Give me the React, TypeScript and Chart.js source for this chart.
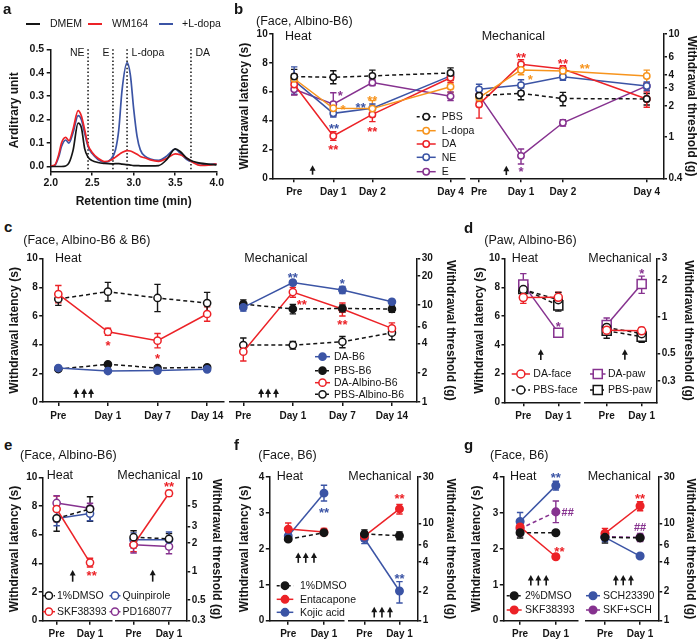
import React, { useEffect, useRef } from 'react';
import { Chart, registerables } from 'chart.js';

Chart.register(...registerables);

const FONT = '"Liberation Sans", Arial, Helvetica, sans-serif';
const INK = '#151515';
const RED = '#EC2227';
const ORANGE = '#F7941D';
const BLUE = '#3B54A5';
const PURPLE = '#86328F';

// ---------------- panel a : chromatogram ----------------
const retentionTime = [2.0, 2.05, 2.1, 2.13, 2.18, 2.22, 2.27, 2.33, 2.37, 2.41, 2.45, 2.5, 2.57, 2.65, 2.73, 2.78, 2.82, 2.86, 2.92, 2.96, 3.0, 3.04, 3.08, 3.14, 3.2, 3.3, 3.4, 3.5, 3.56, 3.64, 3.72, 3.8, 3.9, 4.0];
const dmemSignal = [0.0, 0.0, 0.0, 0.0, 0.002, 0.015, 0.07, 0.185, 0.165, 0.075, 0.04, 0.025, 0.017, 0.013, 0.011, 0.012, 0.012, 0.01, 0.008, 0.006, 0.004, 0.004, 0.003, 0.003, 0.003, 0.004, 0.03, 0.075, 0.064, 0.035, 0.021, 0.014, 0.01, 0.007];
const wm164Signal = [0.002, 0.007, 0.055, 0.1, 0.124, 0.11, 0.16, 0.238, 0.215, 0.156, 0.092, 0.06, 0.035, 0.021, 0.028, 0.04, 0.05, 0.06, 0.068, 0.066, 0.06, 0.052, 0.043, 0.036, 0.028, 0.022, 0.035, 0.054, 0.05, 0.035, 0.016, 0.005, 0.006, 0.011];
const ldopaSignal = [0.0, 0.005, 0.045, 0.085, 0.113, 0.1, 0.145, 0.217, 0.2, 0.14, 0.085, 0.055, 0.03, 0.018, 0.033, 0.07, 0.156, 0.327, 0.443, 0.39, 0.245, 0.13, 0.071, 0.043, 0.032, 0.026, 0.045, 0.074, 0.057, 0.03, 0.018, 0.012, 0.008, 0.011];
const standardTimes = [2.45, 2.75, 2.92, 3.69];
const standardLabels = ['NE', 'E', 'L-dopa', 'DA'];
const standardLabelRight = [false, false, true, true];
const chromYTicks = [0, 0.1, 0.2, 0.3, 0.4, 0.5];
const chromXTicks = [2.0, 2.5, 3.0, 3.5, 4.0];

// ---------------- shared ticks ----------------
const heatTicks10 = [0, 2, 4, 6, 8, 10];
const heatTicks4 = [0, 1, 2, 3, 4];
const bMechTicks = [0.4, 1, 2, 3, 4, 6, 10];
const cMechTicks = [1, 2, 4, 6, 10, 20, 30];
const dMechTicks = [0.3, 0.5, 1, 2, 3];
const eMechTicks = [0.3, 0.5, 1, 2, 3, 5, 10];
const fgMechTicks = [1, 2, 4, 6, 10, 30];

// ---------------- panel b ----------------
const bDays = [0, 1, 2, 4];
const bDayLabels = ['Pre', 'Day 1', 'Day 2', 'Day 4'];
const bHeatPBS = [7.05, 7.0, 7.1, 7.3];
const bHeatPBSErr = [0.5, 0.45, 0.4, 0.35];
const bHeatLdopa = [6.9, 4.85, 4.83, 6.35];
const bHeatLdopaErr = [0.3, 0.3, 0.55, 0.4];
const bHeatDA = [6.5, 2.93, 4.43, 6.97];
const bHeatDAErr = [0.7, 0.3, 0.5, 0.35];
const bHeatNE = [6.77, 4.5, 4.85, 7.1];
const bHeatNEErr = [0.95, 0.25, 0.3, 0.3];
const bHeatE = [6.17, 5.13, 6.63, 5.68];
const bHeatEErr = [0.4, 0.8, 0.2, 0.3];
const bMechPBS = [2.53, 2.66, 2.37, 2.35];
const bMechPBSErr = [0.3, 0.35, 0.35, 0.3];
const bMechLdopa = [2.42, 4.48, 4.39, 3.92];
const bMechLdopaErr = [0.2, 0.45, 0.3, 0.55];
const bMechDA = [2.08, 5.08, 4.58, 2.35];
const bMechDAErr = [0.55, 0.55, 0.35, 0.4];
const bMechNE = [2.91, 3.2, 3.86, 3.14];
const bMechNEErr = [0.35, 0.4, 0.3, 0.3];
const bMechE = [2.56, 0.66, 1.38, 3.14];
const bMechEErr = [0.3, 0.11, 0.1, 0.2];

// ---------------- panel c ----------------
const cDays = [0, 1, 2, 3];
const cDayLabels = ['Pre', 'Day 1', 'Day 7', 'Day 14'];
const cHeatDAB6 = [2.37, 2.16, 2.19, 2.28];
const cHeatDAB6Err = [0.1, 0.08, 0.08, 0.08];
const cHeatPBSB6 = [2.3, 2.63, 2.37, 2.42];
const cHeatPBSB6Err = [0.1, 0.1, 0.08, 0.08];
const cHeatDAAlb = [7.53, 4.9, 4.28, 6.14];
const cHeatDAAlbErr = [0.6, 0.25, 0.5, 0.5];
const cHeatPBSAlb = [7.19, 7.7, 7.26, 6.9];
const cHeatPBSAlbErr = [0.45, 0.65, 0.95, 0.75];
const cMechDAB6 = [9.45, 17.0, 14.3, 10.8];
const cMechDAB6Err = [0.8, 0.8, 1.2, 0.6];
const cMechPBSB6 = [10.2, 9.1, 9.2, 9.1];
const cMechPBSB6Err = [1.1, 1.0, 0.8, 0.7];
const cMechDAAlb = [3.3, 13.6, 9.1, 5.74];
const cMechDAAlbErr = [0.65, 1.6, 1.4, 0.8];
const cMechPBSAlb = [3.86, 3.86, 4.18, 5.18];
const cMechPBSAlbErr = [0.7, 0.35, 0.55, 0.8];

// ---------------- panels d-g ----------------
const preDay1 = [0, 1];
const preDay1Labels = ['Pre', 'Day 1'];

const dHeatDAface = [7.29, 7.31];
const dHeatDAfaceErr = [0.4, 0.35];
const dHeatPBSface = [7.85, 7.15];
const dHeatPBSfaceErr = [0.4, 0.5];
const dHeatDApaw = [8.21, 4.85];
const dHeatDApawErr = [0.75, 0.25];
const dHeatPBSpaw = [7.9, 6.75];
const dHeatPBSpawErr = [0.35, 0.4];
const dMechDAface = [0.78, 0.77];
const dMechDAfaceErr = [0.05, 0.05];
const dMechPBSface = [0.82, 0.73];
const dMechPBSfaceErr = [0.08, 0.08];
const dMechDApaw = [0.86, 1.86];
const dMechDApawErr = [0.12, 0.3];
const dMechPBSpaw = [0.77, 0.69];
const dMechPBSpawErr = [0.1, 0.07];

const eHeatDMSO = [7.14, 7.79];
const eHeatDMSOErr = [0.9, 0.85];
const eHeatSKF = [7.79, 4.05];
const eHeatSKFErr = [0.9, 0.3];
const eHeatQuin = [7.12, 7.47];
const eHeatQuinErr = [0.5, 0.5];
const eHeatPD = [8.21, 7.84];
const eHeatPDErr = [0.5, 0.35];
const eMechDMSO = [2.31, 2.22];
const eMechDMSOErr = [0.4, 0.3];
const eMechSKF = [1.92, 6.77];
const eMechSKFErr = [0.3, 0.5];
const eMechQuin = [2.17, 2.17];
const eMechQuinErr = [0.4, 0.45];
const eMechPD = [1.92, 1.84];
const eMechPDErr = [0.35, 0.3];

const fHeatDMSO = [2.27, 2.45];
const fHeatDMSOErr = [0.05, 0.06];
const fHeatEnt = [2.55, 2.47];
const fHeatEntErr = [0.17, 0.1];
const fHeatKojic = [2.36, 3.55];
const fHeatKojicErr = [0.1, 0.22];
const fMechDMSO = [7.78, 7.49];
const fMechDMSOErr = [0.8, 0.7];
const fMechEnt = [7.4, 14.1];
const fMechEntErr = [0.8, 1.6];
const fMechKojic = [7.0, 2.02];
const fMechKojicErr = [0.8, 0.5];

const gHeatDMSO = [2.45, 2.45];
const gHeatDMSOErr = [0.15, 0.05];
const gHeatSKF = [2.61, 1.78];
const gHeatSKFErr = [0.15, 0.05];
const gHeatSCH = [2.76, 3.76];
const gHeatSCHErr = [0.25, 0.12];
const gHeatMix = [2.56, 3.03];
const gHeatMixErr = [0.2, 0.3];
const gMechDMSO = [7.19, 7.1];
const gMechDMSOErr = [0.9, 0.5];
const gMechSKF = [7.9, 15.1];
const gMechSKFErr = [1.0, 1.6];
const gMechSCH = [7.2, 4.62];
const gMechSCHErr = [0.7, 0.25];
const gMechMix = [7.3, 7.2];
const gMechMixErr = [0.6, 0.7];

// ---------------- types & helpers ----------------
type Series = { label: string; color: string; values: number[]; errors: number[]; dashed?: boolean; filled?: boolean; square?: boolean };
type Note = [number, number, string, string];
type Arrow = [number, number, number];
type LegendItem = { s: Series; y: number; x1: number; x2: number; tx: number };
type Sub = {
  kind: 'heat' | 'mech';
  area: [number, number, number, number];
  titleX: number;
  xVals: number[];
  xLabels: string[];
  xMin: number;
  xMax: number;
  log: boolean;
  yMin: number;
  yMax: number;
  yTicks: number[];
  series: Series[];
  radius: number;
  notes: Note[];
  arrows: Arrow[];
  legend: LegendItem[];
};

const S = (label: string, color: string, values: number[], errors: number[], o: Partial<Series> = {}): Series => ({ label, color, values, errors, ...o });
const legendCol = (series: Series[], ys: number[], x1: number, x2: number, tx: number): LegendItem[] =>
  series.map((s, i) => ({ s, y: ys[i], x1, x2, tx }));

const bHeat = [
  S('PBS', INK, bHeatPBS, bHeatPBSErr, { dashed: true }),
  S('L-dopa', ORANGE, bHeatLdopa, bHeatLdopaErr),
  S('DA', RED, bHeatDA, bHeatDAErr),
  S('NE', BLUE, bHeatNE, bHeatNEErr),
  S('E', PURPLE, bHeatE, bHeatEErr),
];
const bMech = [
  S('PBS', INK, bMechPBS, bMechPBSErr, { dashed: true }),
  S('L-dopa', ORANGE, bMechLdopa, bMechLdopaErr),
  S('DA', RED, bMechDA, bMechDAErr),
  S('NE', BLUE, bMechNE, bMechNEErr),
  S('E', PURPLE, bMechE, bMechEErr),
];
const cHeat = [
  S('DA-B6', BLUE, cHeatDAB6, cHeatDAB6Err, { filled: true }),
  S('PBS-B6', INK, cHeatPBSB6, cHeatPBSB6Err, { filled: true, dashed: true }),
  S('DA-Albino-B6', RED, cHeatDAAlb, cHeatDAAlbErr),
  S('PBS-Albino-B6', INK, cHeatPBSAlb, cHeatPBSAlbErr, { dashed: true }),
];
const cMech = [
  S('DA-B6', BLUE, cMechDAB6, cMechDAB6Err, { filled: true }),
  S('PBS-B6', INK, cMechPBSB6, cMechPBSB6Err, { filled: true, dashed: true }),
  S('DA-Albino-B6', RED, cMechDAAlb, cMechDAAlbErr),
  S('PBS-Albino-B6', INK, cMechPBSAlb, cMechPBSAlbErr, { dashed: true }),
];
const dHeat = [
  S('DA-face', RED, dHeatDAface, dHeatDAfaceErr),
  S('PBS-face', INK, dHeatPBSface, dHeatPBSfaceErr, { dashed: true }),
  S('DA-paw', PURPLE, dHeatDApaw, dHeatDApawErr, { square: true }),
  S('PBS-paw', INK, dHeatPBSpaw, dHeatPBSpawErr, { square: true, dashed: true }),
];
const dMech = [
  S('DA-face', RED, dMechDAface, dMechDAfaceErr),
  S('PBS-face', INK, dMechPBSface, dMechPBSfaceErr, { dashed: true }),
  S('DA-paw', PURPLE, dMechDApaw, dMechDApawErr, { square: true }),
  S('PBS-paw', INK, dMechPBSpaw, dMechPBSpawErr, { square: true, dashed: true }),
];
const eHeat = [
  S('1%DMSO', INK, eHeatDMSO, eHeatDMSOErr, { dashed: true }),
  S('SKF38393', RED, eHeatSKF, eHeatSKFErr),
  S('Quinpirole', BLUE, eHeatQuin, eHeatQuinErr),
  S('PD168077', PURPLE, eHeatPD, eHeatPDErr),
];
const eMech = [
  S('1%DMSO', INK, eMechDMSO, eMechDMSOErr, { dashed: true }),
  S('SKF38393', RED, eMechSKF, eMechSKFErr),
  S('Quinpirole', BLUE, eMechQuin, eMechQuinErr),
  S('PD168077', PURPLE, eMechPD, eMechPDErr),
];
const fHeat = [
  S('1%DMSO', INK, fHeatDMSO, fHeatDMSOErr, { dashed: true, filled: true }),
  S('Entacapone', RED, fHeatEnt, fHeatEntErr, { filled: true }),
  S('Kojic acid', BLUE, fHeatKojic, fHeatKojicErr, { filled: true }),
];
const fMech = [
  S('1%DMSO', INK, fMechDMSO, fMechDMSOErr, { dashed: true, filled: true }),
  S('Entacapone', RED, fMechEnt, fMechEntErr, { filled: true }),
  S('Kojic acid', BLUE, fMechKojic, fMechKojicErr, { filled: true }),
];
const gHeat = [
  S('2%DMSO', INK, gHeatDMSO, gHeatDMSOErr, { dashed: true, filled: true }),
  S('SKF38393', RED, gHeatSKF, gHeatSKFErr, { filled: true }),
  S('SCH23390', BLUE, gHeatSCH, gHeatSCHErr, { filled: true }),
  S('SKF+SCH', PURPLE, gHeatMix, gHeatMixErr, { filled: true, dashed: true }),
];
const gMech = [
  S('2%DMSO', INK, gMechDMSO, gMechDMSOErr, { dashed: true, filled: true }),
  S('SKF38393', RED, gMechSKF, gMechSKFErr, { filled: true }),
  S('SCH23390', BLUE, gMechSCH, gMechSCHErr, { filled: true }),
  S('SKF+SCH', PURPLE, gMechMix, gMechMixErr, { filled: true, dashed: true }),
];

const subs: Sub[] = [
  {
    kind: 'heat', area: [272.7, 34, 465, 178.3], titleX: 245,
    xVals: bDays, xLabels: bDayLabels, xMin: -0.55, xMax: 4.37,
    log: false, yMin: 0, yMax: 10, yTicks: heatTicks10, series: bHeat, radius: 3.2,
    notes: [[1.18, 5.95, '*', PURPLE], [1.25, 5.0, '*', ORANGE], [1.7, 5.1, '**', BLUE], [1.02, 3.63, '**', BLUE], [1.0, 2.19, '**', RED], [2.0, 5.61, '**', ORANGE], [2.0, 3.46, '**', RED]],
    arrows: [[0.47, 0.25, 0.9]],
    legend: legendCol(bHeat, [116.7, 130.7, 144, 157.3, 171.7], 416.7, 435.7, 441.7),
  },
  {
    kind: 'mech', area: [470.7, 34, 663.5, 178.3], titleX: 691.7,
    xVals: bDays, xLabels: bDayLabels, xMin: -0.2, xMax: 4.4,
    log: true, yMin: 0.4, yMax: 10, yTicks: bMechTicks, series: bMech, radius: 3.2,
    notes: [[1.0, 6.4, '**', RED], [1.22, 3.92, '*', ORANGE], [2.0, 5.6, '**', RED], [2.52, 5.0, '**', ORANGE], [1.0, 0.5, '*', PURPLE]],
    arrows: [[0.65, 0.43, 0.53]],
    legend: [],
  },
  {
    kind: 'heat', area: [42.7, 258.7, 223.5, 402], titleX: 15,
    xVals: cDays, xLabels: cDayLabels, xMin: -0.315, xMax: 3.33,
    log: false, yMin: 0, yMax: 10, yTicks: heatTicks10, series: cHeat, radius: 3.6,
    notes: [[1, 4.14, '*', RED], [2, 3.28, '*', RED]],
    arrows: [[0.36, 0.3, 0.95], [0.52, 0.3, 0.95], [0.66, 0.3, 0.95]],
    legend: [],
  },
  {
    kind: 'mech', area: [229.3, 258.7, 416.7, 402], titleX: 450.7,
    xVals: cDays, xLabels: cDayLabels, xMin: -0.283, xMax: 3.5,
    log: true, yMin: 1, yMax: 30, yTicks: cMechTicks, series: cMech, radius: 3.6,
    notes: [[1, 20.8, '**', BLUE], [2, 17.8, '*', BLUE], [1.18, 10.8, '**', RED], [2, 6.7, '**', RED]],
    arrows: [[0.36, 1.11, 1.38], [0.5, 1.11, 1.38], [0.66, 1.11, 1.38]],
    legend: legendCol(cMech, [356.7, 370.7, 382.7, 394.3], 315, 330, 334),
  },
  {
    kind: 'heat', area: [505, 258.7, 580, 402.3], titleX: 480,
    xVals: preDay1, xLabels: preDay1Labels, xMin: -0.523, xMax: 1.62,
    log: false, yMin: 0, yMax: 10, yTicks: heatTicks10, series: dHeat, radius: 4,
    notes: [[1, 5.5, '*', PURPLE]],
    arrows: [[0.5, 2.95, 3.69]],
    legend: legendCol(dHeat.slice(0, 2), [374, 390], 511.7, 530, 533.3),
  },
  {
    kind: 'mech', area: [585, 258.7, 656.7, 402.3], titleX: 688.3,
    xVals: preDay1, xLabels: preDay1Labels, xMin: -0.62, xMax: 1.43,
    log: true, yMin: 0.2, yMax: 3, yTicks: dMechTicks, series: dMech, radius: 4,
    notes: [[1, 2.42, '*', PURPLE]],
    arrows: [[0.52, 0.446, 0.545]],
    legend: legendCol(dMech.slice(2), [374, 390], 590, 605.5, 608),
  },
  {
    kind: 'heat', area: [42.3, 477.3, 111.7, 620.7], titleX: 15,
    xVals: preDay1, xLabels: preDay1Labels, xMin: -0.43, xMax: 1.65,
    log: false, yMin: 0, yMax: 10, yTicks: heatTicks10, series: eHeat, radius: 3.6,
    notes: [[1.05, 3.35, '**', RED]],
    arrows: [[0.48, 2.72, 3.53]],
    legend: legendCol(eHeat.slice(0, 2), [595.7, 611.7], 42.7, 55, 57),
  },
  {
    kind: 'mech', area: [115.5, 477.3, 186.7, 620.7], titleX: 216.7,
    xVals: preDay1, xLabels: preDay1Labels, xMin: -0.51, xMax: 1.5,
    log: true, yMin: 0.3, yMax: 10, yTicks: eMechTicks, series: eMech, radius: 3.6,
    notes: [[1, 8.6, '**', RED]],
    arrows: [[0.54, 0.78, 1.04]],
    legend: legendCol(eMech.slice(2), [595.7, 611.7], 109.5, 120.5, 122.5),
  },
  {
    kind: 'heat', area: [269.3, 477, 344, 620.7], titleX: 245,
    xVals: preDay1, xLabels: preDay1Labels, xMin: -0.53, xMax: 1.56,
    log: false, yMin: 0, yMax: 4, yTicks: heatTicks4, series: fHeat, radius: 3.7,
    notes: [[1, 3.11, '**', BLUE]],
    arrows: [[0.28, 1.61, 1.9], [0.49, 1.61, 1.9], [0.72, 1.61, 1.9]],
    legend: legendCol(fHeat, [585.7, 599.3, 612.3], 276.7, 293.3, 300),
  },
  {
    kind: 'mech', area: [349, 477, 417.7, 620.7], titleX: 450,
    xVals: preDay1, xLabels: preDay1Labels, xMin: -0.44, xMax: 1.52,
    log: true, yMin: 1, yMax: 30, yTicks: fgMechTicks, series: fMech, radius: 3.7,
    notes: [[1, 19.3, '**', RED], [1, 2.9, '**', BLUE]],
    arrows: [[0.28, 1.08, 1.39], [0.5, 1.08, 1.39], [0.73, 1.08, 1.39]],
    legend: [],
  },
  {
    kind: 'heat', area: [503.3, 477, 578, 620.7], titleX: 476.7,
    xVals: preDay1, xLabels: preDay1Labels, xMin: -0.47, xMax: 1.62,
    log: false, yMin: 0, yMax: 4, yTicks: heatTicks4, series: gHeat, radius: 3.8,
    notes: [[1, 4.07, '**', BLUE], [1.33, 3.03, '##', PURPLE], [1.1, 2.0, '**', RED]],
    arrows: [[0.3, 0.98, 1.27], [0.51, 0.98, 1.27], [0.73, 0.98, 1.27]],
    legend: legendCol(gHeat.slice(0, 2), [595.7, 610], 506.7, 521.7, 525),
  },
  {
    kind: 'mech', area: [586, 477, 658.7, 620.7], titleX: 690,
    xVals: preDay1, xLabels: preDay1Labels, xMin: -0.54, xMax: 1.53,
    log: true, yMin: 1, yMax: 30, yTicks: fgMechTicks, series: gMech, radius: 3.8,
    notes: [[1, 19.3, '**', RED], [1, 9.1, '##', PURPLE]],
    arrows: [[0.31, 2.31, 2.95], [0.52, 2.31, 2.95], [0.74, 2.31, 2.95]],
    legend: legendCol(gMech.slice(2), [595.7, 610], 586, 600, 603),
  },
];

// ---------------- drawing helpers ----------------
const TITLE_SIZE = 12;
const TITLE_HALF = (TITLE_SIZE * 1.2) / 2;
const TICK_FONT = { family: FONT, size: 10, weight: 'bold' as const };

function drawMarker(ctx: CanvasRenderingContext2D, x: number, y: number, s: Series, radius: number) {
  ctx.save();
  ctx.setLineDash([]);
  ctx.lineWidth = 1.5;
  ctx.strokeStyle = s.color;
  ctx.fillStyle = s.filled ? s.color : '#ffffff';
  ctx.beginPath();
  if (s.square) {
    const h = radius * 1.6 * Math.SQRT1_2;
    ctx.rect(x - h, y - h, 2 * h, 2 * h);
  } else {
    ctx.arc(x, y, radius, 0, Math.PI * 2);
  }
  ctx.fill();
  ctx.stroke();
  ctx.restore();
}

function drawArrow(ctx: CanvasRenderingContext2D, x: number, yBottom: number, yTop: number) {
  ctx.save();
  ctx.strokeStyle = INK;
  ctx.fillStyle = INK;
  ctx.lineWidth = 1.6;
  ctx.setLineDash([]);
  ctx.beginPath();
  ctx.moveTo(x, yBottom);
  ctx.lineTo(x, yTop + 4);
  ctx.stroke();
  ctx.beginPath();
  ctx.moveTo(x, yTop);
  ctx.lineTo(x - 3, yTop + 5.5);
  ctx.lineTo(x + 3, yTop + 5.5);
  ctx.closePath();
  ctx.fill();
  ctx.restore();
}

function geo(s: Sub) {
  const [l, t, r, b] = s.area;
  const heat = s.kind === 'heat';
  const cl = heat ? Math.floor(s.titleX - 8) : Math.floor(l - 24);
  const cr = heat ? Math.ceil(r + 24) : Math.min(700, Math.ceil(s.titleX + 8));
  const ct = Math.floor(t - 16);
  const cb = Math.min(644, Math.ceil(b + 24));
  return { cl, cr, ct, cb, w: cr - cl, h: cb - ct };
}

function extrasPlugin(s: Sub, cl: number, ct: number) {
  return {
    id: 'extras',
    beforeDatasetsDraw(chart: any) {
      const ctx: CanvasRenderingContext2D = chart.ctx;
      const xs = chart.scales.x;
      const ys = chart.scales.y;
      ctx.save();
      ctx.lineWidth = 1.4;
      ctx.setLineDash([]);
      chart.data.datasets.forEach((ds: any) => {
        ctx.strokeStyle = ds.borderColor;
        ds.data.forEach((p: any, i: number) => {
          const e = ds.errors[i];
          if (!e) return;
          const px = xs.getPixelForValue(p.x);
          const hi = ys.getPixelForValue(p.y + e);
          const lo = ys.getPixelForValue(s.log ? Math.max(p.y - e, s.yMin * 0.3) : p.y - e);
          const cap = 3.2;
          ctx.beginPath();
          ctx.moveTo(px, hi);
          ctx.lineTo(px, lo);
          ctx.moveTo(px - cap, hi);
          ctx.lineTo(px + cap, hi);
          ctx.moveTo(px - cap, lo);
          ctx.lineTo(px + cap, lo);
          ctx.stroke();
        });
      });
      ctx.restore();
    },
    afterDatasetsDraw(chart: any) {
      const ctx: CanvasRenderingContext2D = chart.ctx;
      const xs = chart.scales.x;
      const ys = chart.scales.y;
      s.arrows.forEach(([x, y0, y1]) => {
        drawArrow(ctx, xs.getPixelForValue(x), ys.getPixelForValue(y0), ys.getPixelForValue(y1));
      });
      s.notes.forEach(([x, y, text, color]) => {
        const hash = text.includes('#');
        const size = hash ? 11 : 13;
        ctx.save();
        ctx.font = `bold ${size}px ${FONT}`;
        ctx.fillStyle = color;
        ctx.textAlign = 'center';
        ctx.textBaseline = 'alphabetic';
        const off = hash ? 0.36 * size : 0.58 * size;
        ctx.fillText(text, xs.getPixelForValue(x), ys.getPixelForValue(y) + off);
        ctx.restore();
      });
      s.legend.forEach((it) => {
        const y = it.y - ct;
        const x1 = it.x1 - cl;
        const x2 = it.x2 - cl;
        ctx.save();
        ctx.strokeStyle = it.s.color;
        ctx.lineWidth = 1.5;
        ctx.setLineDash(it.s.dashed ? [3, 2.5] : []);
        ctx.beginPath();
        ctx.moveTo(x1, y);
        ctx.lineTo(x2, y);
        ctx.stroke();
        ctx.restore();
        drawMarker(ctx, (x1 + x2) / 2, y, it.s, s.radius);
        ctx.save();
        ctx.font = `10.5px ${FONT}`;
        ctx.fillStyle = INK;
        ctx.textAlign = 'left';
        ctx.textBaseline = 'middle';
        ctx.fillText(it.s.label, it.tx - cl, y + 0.5);
        ctx.restore();
      });
    },
  };
}

function subConfig(s: Sub): any {
  const { cl, cr, ct, cb } = geo(s);
  const [l, t, r, b] = s.area;
  const heat = s.kind === 'heat';
  const grid = (len: number) => ({ display: true, drawOnChartArea: false, drawTicks: true, tickLength: len, color: INK, lineWidth: 1.5 });
  const border = { display: true, color: INK, width: 1.5 };
  return {
    type: 'line',
    data: {
      datasets: s.series.map((se) => ({
        label: se.label,
        data: s.xVals.map((x, i) => ({ x, y: se.values[i] })),
        errors: se.errors,
        borderColor: se.color,
        backgroundColor: se.color,
        pointBackgroundColor: se.filled ? se.color : '#ffffff',
        pointBorderColor: se.color,
        pointBorderWidth: 1.5,
        pointRadius: se.square ? s.radius * 1.6 : s.radius,
        pointStyle: se.square ? 'rect' : 'circle',
        borderWidth: 1.5,
        borderDash: se.dashed ? [4, 3] : [],
        tension: 0,
        fill: false,
        clip: false,
      })),
    },
    options: {
      animation: false,
      responsive: false,
      maintainAspectRatio: false,
      events: [],
      layout: { padding: { left: heat ? 0 : l - cl, right: heat ? cr - r : 0, top: t - ct, bottom: 0 } },
      plugins: { legend: { display: false }, tooltip: { enabled: false } },
      scales: {
        x: {
          type: 'linear',
          position: 'bottom',
          min: s.xMin,
          max: s.xMax,
          afterBuildTicks: (sc: any) => {
            sc.ticks = s.xVals.map((v) => ({ value: v }));
          },
          afterFit: (sc: any) => {
            sc.height = cb - b;
          },
          ticks: {
            callback: (_v: any, i: number) => s.xLabels[i],
            font: TICK_FONT,
            color: INK,
            padding: 4,
            maxRotation: 0,
            autoSkip: false,
          },
          grid: grid(4),
          border,
        },
        y: {
          type: s.log ? 'logarithmic' : 'linear',
          position: heat ? 'left' : 'right',
          min: s.yMin,
          max: s.yMax,
          afterBuildTicks: (sc: any) => {
            sc.ticks = s.yTicks.map((v) => ({ value: v }));
          },
          afterFit: (sc: any) => {
            sc.width = heat ? l - cl : cr - r;
          },
          ticks: {
            callback: (_v: any, i: number) => String(s.yTicks[i]),
            font: TICK_FONT,
            color: INK,
            padding: 1.5,
            autoSkip: false,
          },
          grid: grid(3.5),
          border,
          title: {
            display: true,
            text: heat ? 'Withdrawal latency (s)' : 'Withdrawal threshold (g)',
            font: { family: FONT, size: TITLE_SIZE, weight: 'bold' },
            color: INK,
            padding: { top: heat ? s.titleX - cl - TITLE_HALF : cr - s.titleX - TITLE_HALF, bottom: 0 },
          },
        },
      },
    },
    plugins: [extrasPlugin(s, cl, ct)],
  };
}

// ---------------- panel a config ----------------
const A_AREA = { l: 50.7, t: 49.3, r: 216.7, b: 171.4 };
const A_W = 232;
const A_H = 212;
const chromLegend = [
  { label: 'DMEM', color: INK, x1: 26, x2: 40, tx: 50 },
  { label: 'WM164', color: RED, x1: 88, x2: 102, tx: 112 },
  { label: '+L-dopa', color: BLUE, x1: 159, x2: 173, tx: 182 },
];

function chromConfig(): any {
  const { l, t, r, b } = A_AREA;
  const series = [
    { label: 'DMEM', color: INK, values: dmemSignal },
    { label: 'WM164', color: RED, values: wm164Signal },
    { label: '+L-dopa', color: BLUE, values: ldopaSignal },
  ];
  const grid = { display: true, drawOnChartArea: false, drawTicks: true, tickLength: 4, color: INK, lineWidth: 1.5 };
  const border = { display: true, color: INK, width: 1.5 };
  const titleFont = { family: FONT, size: TITLE_SIZE, weight: 'bold' as const };
  const tickFont = { family: FONT, size: 10.5, weight: 'bold' as const };
  const plugin = {
    id: 'chromExtras',
    beforeDatasetsDraw(chart: any) {
      const ctx: CanvasRenderingContext2D = chart.ctx;
      const xs = chart.scales.x;
      const area = chart.chartArea;
      ctx.save();
      ctx.strokeStyle = INK;
      ctx.lineWidth = 1.5;
      ctx.setLineDash([1.5, 2.2]);
      standardTimes.forEach((tm) => {
        const px = xs.getPixelForValue(tm);
        ctx.beginPath();
        ctx.moveTo(px, area.top);
        ctx.lineTo(px, area.bottom);
        ctx.stroke();
      });
      ctx.restore();
      ctx.save();
      ctx.font = `10.5px ${FONT}`;
      ctx.fillStyle = INK;
      ctx.textBaseline = 'middle';
      standardTimes.forEach((tm, i) => {
        const px = xs.getPixelForValue(tm);
        ctx.textAlign = standardLabelRight[i] ? 'left' : 'right';
        ctx.fillText(standardLabels[i], standardLabelRight[i] ? px + 4.5 : px - 3.5, 53.5);
      });
      ctx.restore();
    },
    afterDatasetsDraw(chart: any) {
      const ctx: CanvasRenderingContext2D = chart.ctx;
      chromLegend.forEach((it) => {
        ctx.save();
        ctx.strokeStyle = it.color;
        ctx.lineWidth = 2;
        ctx.beginPath();
        ctx.moveTo(it.x1, 24);
        ctx.lineTo(it.x2, 24);
        ctx.stroke();
        ctx.font = `10.5px ${FONT}`;
        ctx.fillStyle = INK;
        ctx.textBaseline = 'middle';
        ctx.fillText(it.label, it.tx, 24.5);
        ctx.restore();
      });
    },
  };
  return {
    type: 'line',
    data: {
      datasets: series.map((se) => ({
        label: se.label,
        data: retentionTime.map((x, i) => ({ x, y: se.values[i] })),
        borderColor: se.color,
        borderWidth: 1.7,
        pointRadius: 0,
        cubicInterpolationMode: 'monotone',
        fill: false,
      })),
    },
    options: {
      animation: false,
      responsive: false,
      maintainAspectRatio: false,
      events: [],
      layout: { padding: { left: 0, right: A_W - r, top: t, bottom: 0 } },
      plugins: { legend: { display: false }, tooltip: { enabled: false } },
      scales: {
        x: {
          type: 'linear',
          min: 2,
          max: 4,
          afterBuildTicks: (sc: any) => {
            sc.ticks = chromXTicks.map((v) => ({ value: v }));
          },
          afterFit: (sc: any) => {
            sc.height = A_H - b;
          },
          ticks: { callback: (_v: any, i: number) => chromXTicks[i].toFixed(1), font: tickFont, color: INK, padding: 1, maxRotation: 0, autoSkip: false },
          grid,
          border,
          title: { display: true, text: 'Retention time (min)', font: titleFont, color: INK, padding: { top: 0, bottom: A_H - 201.7 - TITLE_HALF } },
        },
        y: {
          type: 'linear',
          min: -0.021,
          max: 0.5,
          afterBuildTicks: (sc: any) => {
            sc.ticks = chromYTicks.map((v) => ({ value: v }));
          },
          afterFit: (sc: any) => {
            sc.width = l;
          },
          ticks: { callback: (_v: any, i: number) => chromYTicks[i].toFixed(1), font: tickFont, color: INK, padding: 2.5, autoSkip: false },
          grid,
          border,
          title: { display: true, text: 'Arditrary unit', font: titleFont, color: INK, padding: { top: 15 - TITLE_HALF, bottom: 0 } },
        },
      },
    },
    plugins: [plugin],
  };
}

// ---------------- components ----------------
function ChartCanvas({ x, y, w, h, make }: { x: number; y: number; w: number; h: number; make: () => any }) {
  const ref = useRef<HTMLCanvasElement | null>(null);
  useEffect(() => {
    if (!ref.current) return;
    const chart = new Chart(ref.current, make());
    return () => chart.destroy();
  }, []);
  return <canvas ref={ref} width={w} height={h} style={{ position: 'absolute', left: x, top: y, width: w, height: h }} />;
}

function Txt({ x, base, size, bold, children }: { x: number; base: number; size: number; bold?: boolean; children: React.ReactNode }) {
  return (
    <div
      style={{
        position: 'absolute',
        left: x,
        top: base - 0.8465 * size,
        fontFamily: FONT,
        fontSize: size,
        fontWeight: bold ? 700 : 400,
        lineHeight: 1,
        whiteSpace: 'nowrap',
        color: INK,
      }}
    >
      {children}
    </div>
  );
}

const panelLetters: [string, number, number][] = [
  ['a', 3, 13.3], ['b', 234, 13.3], ['c', 4, 231.7], ['d', 464, 232.7], ['e', 4, 450], ['f', 234, 449.3], ['g', 464, 450],
];
const subtitles: [string, number, number][] = [
  ['(Face, Albino-B6)', 256, 25.5], ['(Face, Albino-B6 & B6)', 23.3, 244.5], ['(Paw, Albino-B6)', 484.3, 244.7],
  ['(Face, Albino-B6)', 20, 460], ['(Face, B6)', 258.3, 459.5], ['(Face, B6)', 490, 460],
];
const modalityLabels: [string, number, number][] = [
  ['Heat', 285, 40.5], ['Mechanical', 481.7, 40.5],
  ['Heat', 55, 263], ['Mechanical', 244.3, 263],
  ['Heat', 511.7, 263], ['Mechanical', 588.3, 263],
  ['Heat', 46.7, 479.5], ['Mechanical', 117.3, 479.5],
  ['Heat', 276.7, 481], ['Mechanical', 348.3, 481],
  ['Heat', 510, 481], ['Mechanical', 587.7, 481],
];

export default function App() {
  return (
    <div style={{ position: 'absolute', left: 0, top: 0, width: 700, height: 644, overflow: 'hidden', background: '#ffffff' }}>
      <ChartCanvas x={0} y={0} w={A_W} h={A_H} make={chromConfig} />
      {subs.map((s, i) => {
        const g = geo(s);
        return <ChartCanvas key={i} x={g.cl} y={g.ct} w={g.w} h={g.h} make={() => subConfig(s)} />;
      })}
      {panelLetters.map(([t, x, y]) => (
        <Txt key={'L' + t} x={x} base={y} size={15} bold>
          {t}
        </Txt>
      ))}
      {subtitles.map(([t, x, y], i) => (
        <Txt key={'S' + i} x={x} base={y} size={12.5}>
          {t}
        </Txt>
      ))}
      {modalityLabels.map(([t, x, y], i) => (
        <Txt key={'M' + i} x={x} base={y} size={12.5}>
          {t}
        </Txt>
      ))}
    </div>
  );
}
